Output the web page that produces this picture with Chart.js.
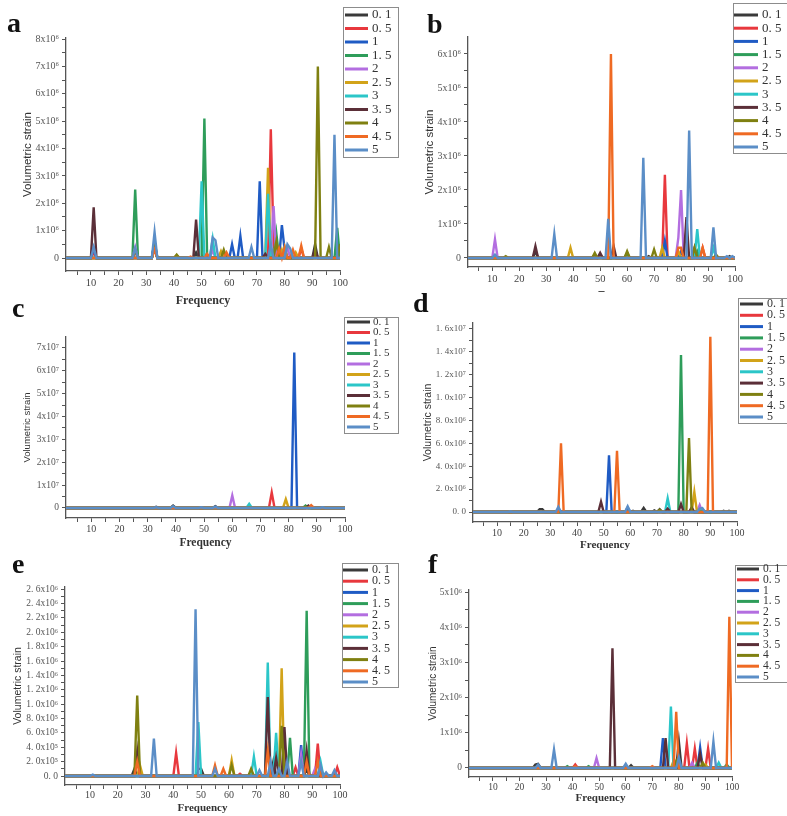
<!DOCTYPE html>
<html>
<head>
<meta charset="utf-8">
<script src="https://cdn.jsdelivr.net/npm/chart.js@4/dist/chart.umd.min.js"></script>
<style>
  body { margin: 0; background: #fff; }
  #page { position: relative; width: 787px; height: 816px; overflow: hidden; background: #fff; }
  #page canvas { position: absolute; }
  .tag { position: absolute; font: bold 28px 'Liberation Serif', serif; line-height: 28px; color: #111; }
</style>
</head>
<body>
<div id="page">
  <canvas id="chart-a" style="left:0;top:0" width="400" height="312"></canvas>
  <canvas id="chart-b" style="left:400px;top:0" width="387" height="300"></canvas>
  <canvas id="chart-c" style="left:0;top:285px" width="400" height="268"></canvas>
  <canvas id="chart-d" style="left:400px;top:285px" width="387" height="270"></canvas>
  <canvas id="chart-e" style="left:0;top:545px" width="400" height="271"></canvas>
  <canvas id="chart-f" style="left:400px;top:545px" width="387" height="271"></canvas>
  <div class="tag" style="left:7px;top:9px">a</div>
  <div class="tag" style="left:427px;top:10px">b</div>
  <div class="tag" style="left:12px;top:294px">c</div>
  <div class="tag" style="left:413px;top:289px">d</div>
  <div class="tag" style="left:12px;top:550px">e</div>
  <div class="tag" style="left:428px;top:550px">f</div>
</div>
<script>
// 图例标签（11条曲线）
const seriesLabels = ['0. 1', '0. 5', '1', '1. 5', '2', '2. 5', '3', '3. 5', '4', '4. 5', '5'];
const seriesColors = ['#3a3a3a', '#e8383d', '#1f5bc4', '#2e9d5a', '#b36ee0', '#d2a319',
                      '#2bc6c8', '#5b2f38', '#7f8011', '#ef6a23', '#5b8ec7'];

// 横轴刻度
const xTickLabels = ['10', '20', '30', '40', '50', '60', '70', '80', '90', '100'];

// 各面板峰值 [频率, 值]，单位见 unit 常量
// a: ×10^6
const unitA = 1e6;
const peaksA = [
    [[11, 0.3], [26, 0.3], [33, 0.5], [48, 0.2], [74, 0.2], [80, 0.3], [91, 0.5]],
    [[11, 0.2], [26, 0.25], [33, 0.4], [51, 0.15], [58, 0.2], [75, 4.7], [76, 0.5], [86, 0.35]],
    [[11, 0.35], [33, 0.5], [61, 0.5], [64, 0.8], [71, 2.8], [79, 1.2], [80, 0.3]],
    [[26, 2.5], [33, 0.6], [51, 5.1], [77, 0.9], [99, 1.1]],
    [[26, 0.4], [33, 0.5], [54, 0.3], [76, 1.9], [81, 0.4]],
    [[33, 0.4], [41, 0.1], [57, 0.25], [74, 3.3], [79, 0.3], [84, 0.2]],
    [[33, 0.6], [50, 2.8], [54, 0.7], [74, 2.35], [80, 0.4]],
    [[11, 1.85], [33, 0.5], [48, 1.4], [73, 0.15], [91, 0.3]],
    [[26, 0.3], [33, 0.4], [41, 0.12], [58, 0.3], [77, 0.6], [92, 7.0], [96, 0.4], [100, 0.5]],
    [[33, 0.3], [46, 0.05], [52, 0.15], [59, 0.2], [78, 0.35], [80, 0.4], [83, 0.3], [86, 0.45]],
    [[11, 0.4], [26, 0.35], [33, 0.95], [54, 0.75], [55, 0.65], [68, 0.4], [75, 0.5], [81, 0.5], [82, 0.35], [98, 4.5]]
];
const yTicksA = [0, 1e6, 2e6, 3e6, 4e6, 5e6, 6e6, 7e6, 8e6];
const yLabelsA = ['0', '1x10⁶', '2x10⁶', '3x10⁶', '4x10⁶', '5x10⁶', '6x10⁶', '7x10⁶', '8x10⁶'];

// b: ×10^6
const unitB = 1e6;
const peaksB = [
    [[26, 0.2], [50, 0.1], [68, 0.05], [85, 0.3], [98, 0.05]],
    [[74, 2.45], [88, 0.3]],
    [[74, 0.5], [80, 0.2]],
    [[48, 0.1], [60, 0.15], [86, 0.2]],
    [[11, 0.55], [79, 0.6], [80, 2.0]],
    [[39, 0.3], [73, 0.3], [79, 0.2]],
    [[86, 0.85], [92, 0.3]],
    [[26, 0.35], [50, 0.15], [55, 0.35], [82, 1.2]],
    [[15, 0.05], [48, 0.15], [60, 0.2], [70, 0.25], [85, 0.3], [93, 0.1]],
    [[54, 6.0], [79, 0.3], [80, 0.3], [88, 0.3]],
    [[11, 0.1], [33, 0.7], [53, 1.15], [66, 2.95], [83, 3.75], [92, 0.9], [97, 0.05], [99, 0.05]]
];
const yTicksB = [0, 1e6, 2e6, 3e6, 4e6, 5e6, 6e6];
const yLabelsB = ['0', '1x10⁶', '2x10⁶', '3x10⁶', '4x10⁶', '5x10⁶', '6x10⁶'];

// c: ×10^7
const unitC = 1e7;
const peaksC = [
    [[33, 0.05], [39, 0.1], [54, 0.08]],
    [[74, 0.68]],
    [[82, 6.8]],
    [[86, 0.1]],
    [[60, 0.55]],
    [[79, 0.38]],
    [[66, 0.18]],
    [[87, 0.1]],
    [[39, 0.05], [86, 0.05]],
    [[88, 0.12]],
    [[33, 0.03], [39, 0.08], [49, 0.03], [54, 0.06], [92, 0.03]]
];
const yTicksC = [0, 1e7, 2e7, 3e7, 4e7, 5e7, 6e7, 7e7];
const yLabelsC = ['0', '1x10⁷', '2x10⁷', '3x10⁷', '4x10⁷', '5x10⁷', '6x10⁷', '7x10⁷'];

// d: ×10^6
const unitD = 1e6;
const peaksD = [
    [[26, 0.25], [27, 0.25], [61, 0.1], [65, 0.35], [69, 0.15], [71, 0.25], [95, 0.1], [97, 0.1]],
    [[86, 0.3]],
    [[52, 4.95], [59, 0.4]],
    [[79, 13.7]],
    [[86, 0.6]],
    [[84, 1.75]],
    [[74, 1.2], [87, 0.3]],
    [[49, 0.9], [74, 0.3], [79, 0.7], [83, 0.4]],
    [[71, 0.2], [82, 6.45]],
    [[34, 6.0], [55, 5.35], [90, 15.3]],
    [[15, 0.05], [33, 0.45], [59, 0.5], [86, 0.3], [87, 0.35]]
];
const yTicksD = [0, 2e6, 4e6, 6e6, 8e6, 1e7, 1.2e7, 1.4e7, 1.6e7];
const yLabelsD = ['0. 0', '2. 0x10⁶', '4. 0x10⁶', '6. 0x10⁶', '8. 0x10⁶', '1. 0x10⁷', '1. 2x10⁷', '1. 4x10⁷', '1. 6x10⁷'];

// e: ×10^6
const unitE = 1e6;
const peaksE = [
    [[26, 0.1], [49, 0.1], [50, 0.1], [76, 0.2], [88, 0.1]],
    [[41, 0.32], [64, 0.03], [84, 0.12], [92, 0.45], [99, 0.12]],
    [[80, 0.15], [86, 0.43]],
    [[82, 0.53], [88, 2.3]],
    [[86, 0.3], [91, 0.1]],
    [[28, 0.15], [61, 0.22], [79, 1.5]],
    [[49, 0.75], [69, 0.27], [74, 1.58], [77, 0.6], [93, 0.2]],
    [[27, 0.35], [74, 1.1], [77, 0.25], [80, 0.68], [88, 0.35]],
    [[27, 1.12], [61, 0.15], [68, 0.1], [79, 0.7], [93, 0.1]],
    [[27, 0.2], [55, 0.15], [58, 0.1], [74, 0.35], [88, 0.2], [92, 0.2]],
    [[11, 0.02], [33, 0.52], [48, 2.32], [55, 0.1], [71, 0.08], [75, 0.2], [78, 0.1], [81, 0.2], [86, 0.2], [93, 0.15], [95, 0.05], [98, 0.08]]
];
const yTicksE = [0, 2e5, 4e5, 6e5, 8e5, 1e6, 1.2e6, 1.4e6, 1.6e6, 1.8e6, 2e6, 2.2e6, 2.4e6, 2.6e6];
const yLabelsE = ['0. 0', '2. 0x10⁵', '4. 0x10⁵', '6. 0x10⁵', '8. 0x10⁵', '1. 0x10⁶', '1. 2x10⁶', '1. 4x10⁶',
                  '1. 6x10⁶', '1. 8x10⁶', '2. 0x10⁶', '2. 2x10⁶', '2. 4x10⁶', '2. 6x10⁶'];

// f: ×10^6
const unitF = 1e6;
const peaksF = [
    [[26, 0.1], [27, 0.12], [62, 0.08], [80, 0.75]],
    [[41, 0.1], [83, 0.7], [86, 0.55], [91, 0.55]],
    [[74, 0.85], [88, 0.58]],
    [[38, 0.05], [46, 0.05], [87, 0.15], [98, 0.1]],
    [[49, 0.28], [85, 0.15]],
    [[78, 0.2], [90, 0.1]],
    [[77, 1.75], [95, 0.15]],
    [[55, 3.4], [75, 0.85], [88, 0.4]],
    [[79, 0.2], [89, 0.15]],
    [[41, 0.05], [70, 0.05], [79, 1.6], [99, 4.3]],
    [[27, 0.1], [33, 0.52], [60, 0.12], [80, 0.3], [93, 0.75]]
];
const yTicksF = [0, 1e6, 2e6, 3e6, 4e6, 5e6];
const yLabelsF = ['0', '1x10⁶', '2x10⁶', '3x10⁶', '4x10⁶', '5x10⁶'];

const axisColor = '#555';

// 峰值表 -> 折线点（基线为0）
function toPoints(peaks, unit) {
    const pts = new Map([[1, 0], [100, 0]]);
    peaks.forEach(([x, v]) => pts.set(x, v * unit));
    peaks.forEach(([x]) => {
        [x - 1, x + 1].forEach(n => {
            if (n >= 1 && n <= 100 && !pts.has(n)) pts.set(n, 0);
        });
    });
    return [...pts].sort((p, q) => p[0] - q[0]).map(([x, y]) => ({ x, y }));
}

// 带边框的图例
const boxLegend = {
    id: 'boxLegend',
    afterDraw(chart, args, o) {
        const ctx = chart.ctx;
        ctx.save();
        ctx.strokeStyle = '#8c8c8c';
        ctx.lineWidth = 1;
        ctx.strokeRect(o.x + 0.5, o.y + 0.5, o.w, o.h);
        chart.data.datasets.forEach((ds, i) => {
            const y = o.first + i * o.gap;
            ctx.strokeStyle = ds.borderColor;
            ctx.lineWidth = 3;
            ctx.beginPath();
            ctx.moveTo(o.lx0, y);
            ctx.lineTo(o.lx1, y);
            ctx.stroke();
            ctx.fillStyle = '#333';
            ctx.font = o.size + "px 'Liberation Serif', serif";
            ctx.textBaseline = 'middle';
            ctx.fillText(ds.label, o.tx, y);
        });
        ctx.restore();
    }
};

function makePanel(p) {
    const majors = p.yTicks;
    const step = majors[1] - majors[0];
    const yMarks = [];
    majors.forEach(v => { yMarks.push(v); if (v + step / 2 < p.yMax) yMarks.push(v + step / 2); });
    const xMarks = [];
    xTickLabels.forEach(t => { xMarks.push(Number(t) - 5, Number(t)); });

    return new Chart(document.getElementById(p.id), {
        type: 'line',
        data: {
            datasets: p.peaks.map((pk, i) => ({
                label: seriesLabels[i],
                data: toPoints(pk, p.unit),
                borderColor: seriesColors[i],
                borderWidth: 2.4,
                pointRadius: 0,
                tension: 0,
                order: 10 - i
            }))
        },
        options: {
            responsive: false,
            animation: false,
            events: [],
            layout: { padding: { top: p.padTop, right: p.padRight, left: 0, bottom: 0 } },
            plugins: {
                legend: { display: false },
                tooltip: { enabled: false },
                boxLegend: p.legend
            },
            scales: {
                x: {
                    type: 'linear',
                    min: 1,
                    max: 100,
                    afterFit: s => { s.height = p.xAxisH; },
                    afterBuildTicks: s => { s.ticks = xMarks.map(v => ({ value: v })); },
                    ticks: {
                        autoSkip: false,
                        maxRotation: 0,
                        padding: p.xTickPad,
                        color: '#444',
                        font: { family: "'Liberation Serif', serif", size: p.xFont },
                        callback: v => (v % 10 === 0 ? String(v) : '')
                    },
                    grid: { drawOnChartArea: false, tickLength: 4, color: axisColor },
                    border: { color: axisColor, width: 1.3 },
                    title: {
                        display: true,
                        text: p.xTitle,
                        color: '#333',
                        padding: { top: 0, bottom: p.xTitlePad },
                        font: { family: "'Liberation Serif', serif", size: p.xTitleFont, weight: 'bold' }
                    }
                },
                y: {
                    min: p.yMin,
                    max: p.yMax,
                    afterFit: s => { s.width = p.yAxisW; },
                    afterBuildTicks: s => { s.ticks = yMarks.map(v => ({ value: v })); },
                    ticks: {
                        autoSkip: false,
                        padding: 3,
                        color: '#555',
                        font: { family: "'Liberation Serif', serif", size: p.yFont },
                        callback: v => {
                            const k = majors.findIndex(m => Math.abs(m - v) < step * 1e-3);
                            return k >= 0 ? p.yLabels[k] : '';
                        }
                    },
                    grid: { drawOnChartArea: false, tickLength: 4, color: axisColor },
                    border: { color: axisColor, width: 1.3 },
                    title: {
                        display: true,
                        text: 'Volumetric strain',
                        color: '#333',
                        padding: { top: p.yTitlePad, bottom: 0 },
                        font: { family: "'Liberation Sans', sans-serif", size: p.yTitleFont }
                    }
                }
            }
        },
        plugins: [boxLegend]
    });
}

makePanel({
    id: 'chart-a', peaks: peaksA, unit: unitA, yTicks: yTicksA, yLabels: yLabelsA,
    yMin: -0.475e6, yMax: 8.04e6, yAxisW: 66, xAxisH: 41, padTop: 38, padRight: 60,
    yFont: 10, xFont: 10.5, xTickPad: 2, yTitleFont: 11.5, yTitlePad: 21,
    xTitle: 'Frequency', xTitleFont: 12, xTitlePad: 4,
    legend: { x: 343, y: 7, w: 55, h: 150, first: 15, gap: 13.5, lx0: 345, lx1: 368, tx: 372, size: 13 }
});
makePanel({
    id: 'chart-b', peaks: peaksB, unit: unitB, yTicks: yTicksB, yLabels: yLabelsB,
    yMin: -0.265e6, yMax: 6.5e6, yAxisW: 68, xAxisH: 33, padTop: 37, padRight: 52,
    yFont: 10, xFont: 10.5, xTickPad: 2, yTitleFont: 11.5, yTitlePad: 23,
    xTitle: '–', xTitleFont: 12, xTitlePad: 2,
    legend: { x: 333, y: 3, w: 60, h: 150, first: 15, gap: 13.2, lx0: 334, lx1: 358, tx: 362, size: 13 }
});
makePanel({
    id: 'chart-c', peaks: peaksC, unit: unitC, yTicks: yTicksC, yLabels: yLabelsC,
    yMin: -0.44e7, yMax: 7.48e7, yAxisW: 66, xAxisH: 35, padTop: 52, padRight: 55,
    yFont: 9.5, xFont: 10, xTickPad: 1, yTitleFont: 9.5, yTitlePad: 22,
    xTitle: 'Frequency', xTitleFont: 11.5, xTitlePad: 3,
    legend: { x: 344, y: 32, w: 54, h: 116, first: 37, gap: 10.5, lx0: 347, lx1: 370, tx: 373, size: 11 }
});
makePanel({
    id: 'chart-d', peaks: peaksD, unit: unitD, yTicks: yTicksD, yLabels: yLabelsD,
    yMin: -0.87e6, yMax: 16.5e6, yAxisW: 73, xAxisH: 33, padTop: 38, padRight: 50,
    yFont: 9, xFont: 10, xTickPad: 1, yTitleFont: 10.5, yTitlePad: 22,
    xTitle: 'Frequency', xTitleFont: 11, xTitlePad: 3,
    legend: { x: 338, y: 13, w: 60, h: 125, first: 19, gap: 11.3, lx0: 340, lx1: 363, tx: 367, size: 12 }
});
makePanel({
    id: 'chart-e', peaks: peaksE, unit: unitE, yTicks: yTicksE, yLabels: yLabelsE,
    yMin: -0.125e6, yMax: 2.63e6, yAxisW: 65, xAxisH: 31, padTop: 42, padRight: 60,
    yFont: 9.5, xFont: 10, xTickPad: 0, yTitleFont: 10.5, yTitlePad: 12,
    xTitle: 'Frequency', xTitleFont: 11, xTitlePad: 1,
    legend: { x: 342, y: 18, w: 56, h: 124, first: 25, gap: 11.2, lx0: 343, lx1: 368, tx: 372, size: 12 }
});
makePanel({
    id: 'chart-f', peaks: peaksF, unit: unitF, yTicks: yTicksF, yLabels: yLabelsF,
    yMin: -0.256e6, yMax: 5.06e6, yAxisW: 69, xAxisH: 39, padTop: 45, padRight: 55,
    yFont: 9.5, xFont: 9.5, xTickPad: 1, yTitleFont: 10, yTitlePad: 27,
    xTitle: 'Frequency', xTitleFont: 11, xTitlePad: 11,
    legend: { x: 335, y: 20, w: 60, h: 117, first: 24, gap: 10.8, lx0: 337, lx1: 359, tx: 363, size: 11.5 }
});
</script>
</body>
</html>
